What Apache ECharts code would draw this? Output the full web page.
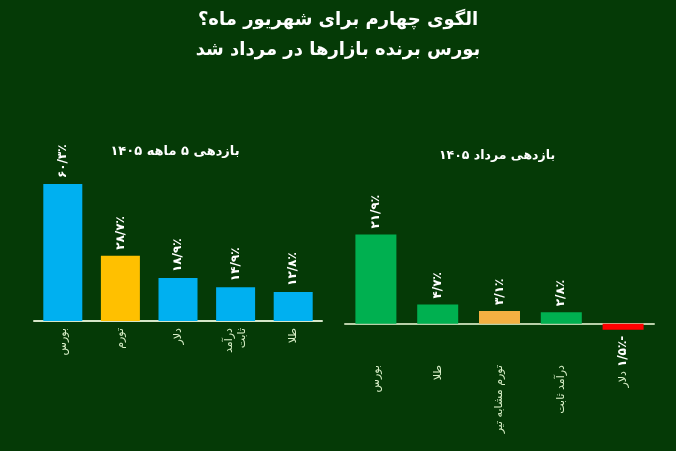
<!DOCTYPE html>
<html><head><meta charset="utf-8">
<script src="https://cdn.jsdelivr.net/npm/echarts@6/dist/echarts.min.js"></script>
<style>html,body{margin:0;padding:0;background:#053a06}#c{width:676px;height:451px}</style>
</head><body><div id="c"></div>
<script>
const mainTitle = 'الگوی چهارم برای شهریور ماه؟\nبورس برنده بازارها در مرداد شد';
const leftTitle = 'بازدهی ۵ ماهه ۱۴۰۵';
const rightTitle = 'بازدهی مرداد ۱۴۰۵';

const leftCategories = ['بورس', 'تورم', 'دلار', 'درآمد\nثابت', 'طلا'];
const leftValues = [60.3, 28.7, 18.9, 14.9, 12.8];
const leftColors = ['#00b0f0', '#ffc000', '#00b0f0', '#00b0f0', '#00b0f0'];

const rightCategories = ['بورس', 'طلا', 'تورم مشابه تیر', 'درآمد ثابت', 'دلار'];
const rightValues = [21.9, 4.7, 3.1, 2.8, -1.5];
const rightColors = ['#00b050', '#00b050', '#f4b042', '#00b050', '#ff0000'];

const fa = s => String(s).replace(/[0-9]/g, d => '۰۱۲۳۴۵۶۷۸۹'[d]);
const fmt = v => {
  const a = Math.abs(v).toFixed(1).replace('.', '/');
  return fa(a) + '٪' + (v < 0 ? '-' : '');
};
const FONT = 'DejaVu Sans';

function barData(vals, colors) {
  return vals.map((v, i) => ({
    value: v,
    itemStyle: { color: colors[i] },
    label: v < 0 ? { position: 'bottom', align: 'right' } : {}
  }));
}

const chart = echarts.init(document.getElementById('c'));
chart.setOption({
  backgroundColor: '#053a06',
  animation: false,
  textStyle: { fontFamily: FONT },
  title: [
    { text: mainTitle, left: 'center', top: 0,
      textStyle: { color: '#ffffff', fontSize: 18, fontWeight: 'bold', lineHeight: 30, fontFamily: FONT } },
    { text: leftTitle, left: 170, top: 140, textAlign: 'center',
      textStyle: { color: '#ffffff', fontSize: 13, fontWeight: 'bold', fontFamily: FONT } },
    { text: rightTitle, left: 492, top: 144, textAlign: 'center',
      textStyle: { color: '#ffffff', fontSize: 12.5, fontWeight: 'bold', fontFamily: FONT } }
  ],
  grid: [
    { left: 34, width: 288, top: 162, height: 159, outerBoundsMode: 'none', containLabel: false },
    { left: 345, width: 309, top: 222, height: 122, outerBoundsMode: 'none', containLabel: false }
  ],
  xAxis: [
    { type: 'category', gridIndex: 0, data: leftCategories,
      axisLine: { lineStyle: { color: '#d6e6c8', width: 2 } }, axisTick: { show: false },
      axisLabel: { rotate: 90, margin: 7, color: '#d9f0c8', fontSize: 11, lineHeight: 13, interval: 0, fontFamily: FONT } },
    { type: 'category', gridIndex: 1, data: rightCategories,
      axisLine: { onZero: true, lineStyle: { color: '#b9cfa8', width: 2 } }, axisTick: { show: false },
      axisLabel: { rotate: 90, margin: 21, color: '#d9f0c8', fontSize: 11, interval: 0, fontFamily: FONT,
        formatter: (v, i) => rightValues[i] < 0 ? '{d|' + v + '}' : v,
        rich: { d: { color: '#d9f0c8', fontSize: 11, fontFamily: FONT, padding: [0, 6, 0, 0] } } } }
  ],
  yAxis: [
    { type: 'value', gridIndex: 0, min: 0, max: 70, show: false, splitLine: { show: false } },
    { type: 'value', gridIndex: 1, min: -5, max: 25, show: false, splitLine: { show: false } }
  ],
  series: [
    { type: 'bar', xAxisIndex: 0, yAxisIndex: 0, barWidth: 39,
      data: barData(leftValues, leftColors),
      label: { show: true, position: 'top', rotate: 90, align: 'left', verticalAlign: 'middle', distance: 6,
        color: '#ffffff', fontSize: 12, fontWeight: 'bold', fontFamily: FONT,
        formatter: p => fmt(p.value) } },
    { type: 'bar', xAxisIndex: 1, yAxisIndex: 1, barWidth: 41,
      data: barData(rightValues, rightColors),
      label: { show: true, position: 'top', rotate: 90, align: 'left', verticalAlign: 'middle', distance: 6,
        color: '#ffffff', fontSize: 12, fontWeight: 'bold', fontFamily: FONT,
        formatter: p => fmt(p.value) } }
  ]
});
</script></body></html>
